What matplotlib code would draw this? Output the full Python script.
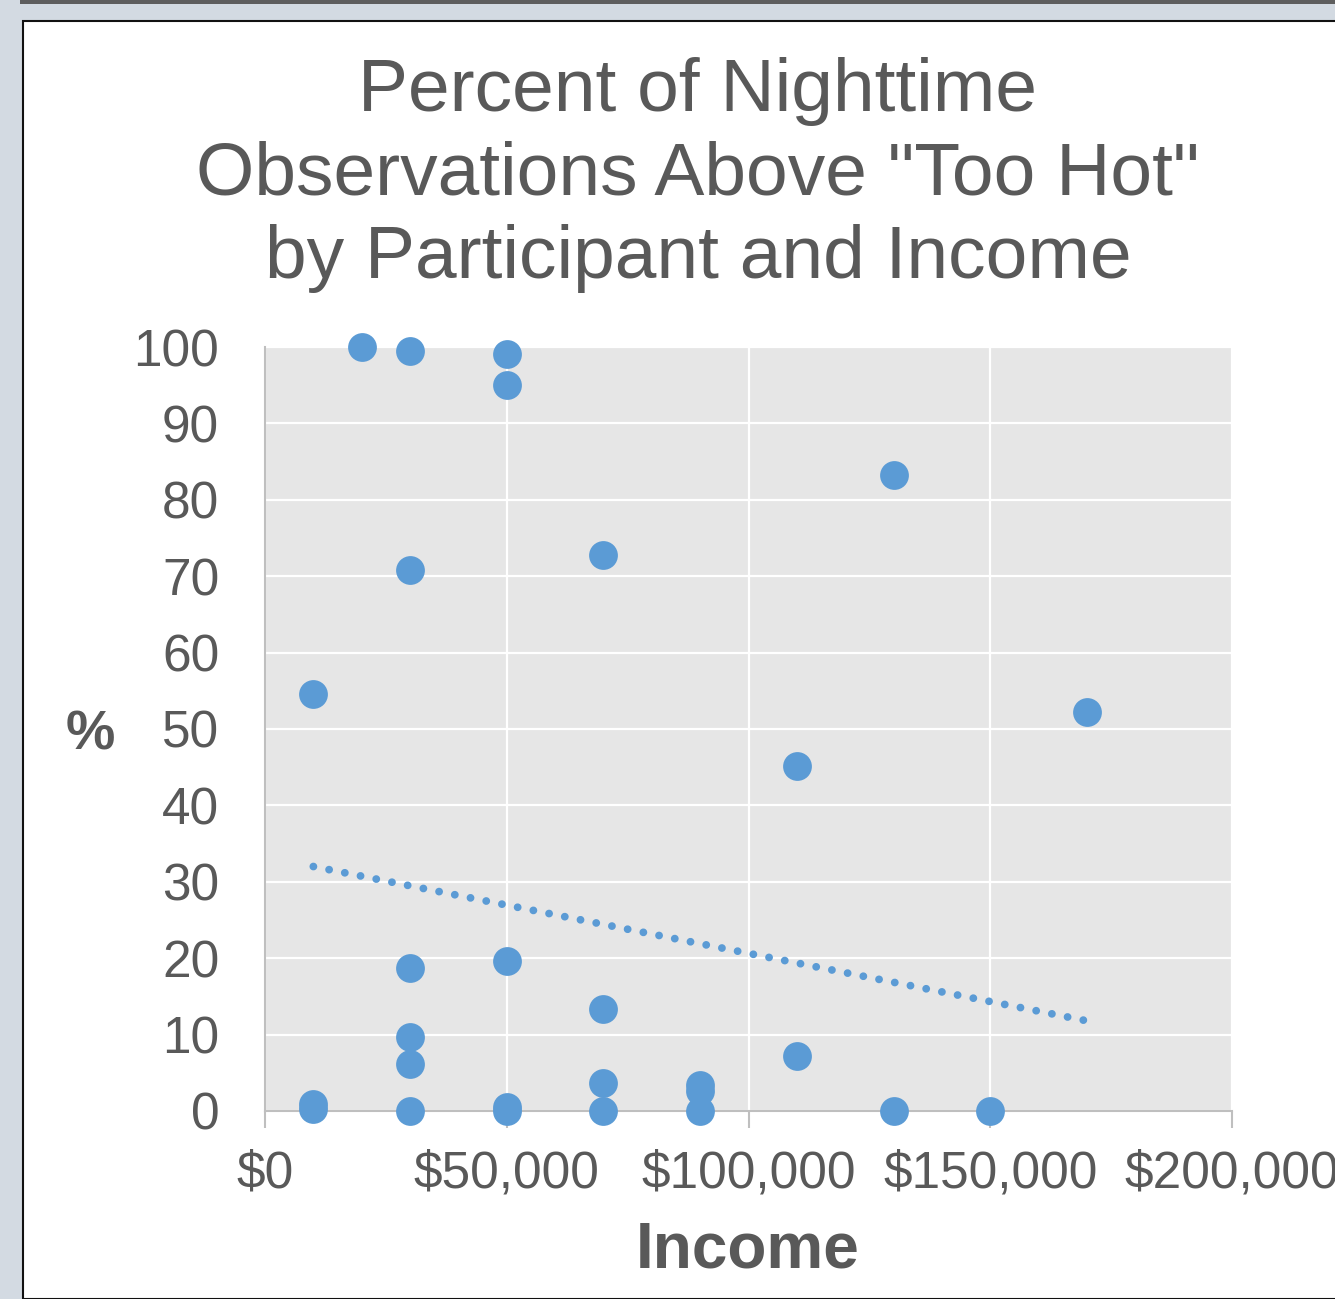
import numpy as np
import matplotlib.pyplot as plt
from matplotlib.patches import Rectangle
from matplotlib.ticker import FuncFormatter

# -------------------------------------------------------------------
# Data (income in $, percent of nighttime obs)
# -------------------------------------------------------------------
income = [20000, 30000, 50000, 50000, 130000, 70000, 30000, 10000, 170000,
          110000, 30000, 50000, 70000, 30000, 30000, 110000, 70000, 90000,
          90000, 10000, 10000, 30000, 50000, 50000, 70000, 90000, 130000,
          150000]
pct_hot = [100.0, 99.5, 99.1, 95.0, 83.2, 72.8, 70.8, 54.6, 52.2,
           45.2, 18.7, 19.6, 13.4, 9.7, 6.2, 7.2, 3.7, 3.4,
           2.6, 0.2, 0.9, 0.0, 0.0, 0.5, 0.0, 0.0, 0.0,
           0.0]

# linear trendline as shown in the chart (end points)
trend_income = [10000, 170000]
trend_pct = [32.0, 11.8]

x_ticks = [0, 50000, 100000, 150000, 200000]
y_ticks = list(range(0, 101, 10))

blue = "#5b9bd5"
grey_text = "#595959"
plt.rcParams["font.family"] = ["Liberation Sans", "DejaVu Sans"]

fig = plt.figure(figsize=(13.35, 12.99), dpi=100)
fig.patch.set_facecolor("#d3dae2")

W, H = 1335, 1299
# white chart panel with dark border, dark bar on top
fig.patches.append(Rectangle((23 / W, 0), 1.1, 1 - 21 / H, transform=fig.transFigure,
                             facecolor="white", edgecolor="#111111", linewidth=1.5,
                             zorder=-10))
fig.patches.append(Rectangle((20 / W, 1 - 4 / H), 1.1, 4 / H, transform=fig.transFigure,
                             facecolor="#5e5e5e", edgecolor="none", zorder=-10))

ax = fig.add_axes([265 / W, 1 - 1111 / H, (1232 - 265) / W, (1111 - 347) / H])
ax.set_facecolor("#e6e6e6")
ax.set_xlim(0, 200000)
ax.set_ylim(0, 100)
ax.set_xticks(x_ticks)
ax.set_yticks(y_ticks)
ax.xaxis.set_major_formatter(FuncFormatter(lambda v, p: f"${v:,.0f}"))
ax.grid(True, color="white", linewidth=1.6)
ax.set_axisbelow(True)
for s in ["top", "right"]:
    ax.spines[s].set_visible(False)
for s in ["bottom", "left"]:
    ax.spines[s].set_color("#bfbfbf")
    ax.spines[s].set_linewidth(1.5)
ax.tick_params(axis="x", length=12, width=1.5, color="#bfbfbf", labelsize=37,
               labelcolor=grey_text, pad=16)
ax.tick_params(axis="y", length=0, labelsize=37, labelcolor=grey_text, pad=33)

ax.scatter(income, pct_hot, s=430, color=blue, zorder=3, clip_on=False, linewidths=0)

ax.plot(trend_income, trend_pct, linestyle=(0, (0.01, 2.05)), color=blue,
        linewidth=5.6, dash_capstyle="round", zorder=2)

fig.text(698 / W, 1 - 175 / H,
         "Percent of Nighttime\nObservations Above \"Too Hot\"\nby Participant and Income",
         ha="center", va="center", fontsize=54, color=grey_text, linespacing=1.27)
fig.text(748 / W, 1 - 1250 / H, "Income", ha="center", va="center", fontsize=46,
         fontweight="bold", color=grey_text)
fig.text(90 / W, 1 - 735 / H, "%", ha="center", va="center", fontsize=40,
         fontweight="bold", color=grey_text)

fig.savefig("out.png", dpi=100)
